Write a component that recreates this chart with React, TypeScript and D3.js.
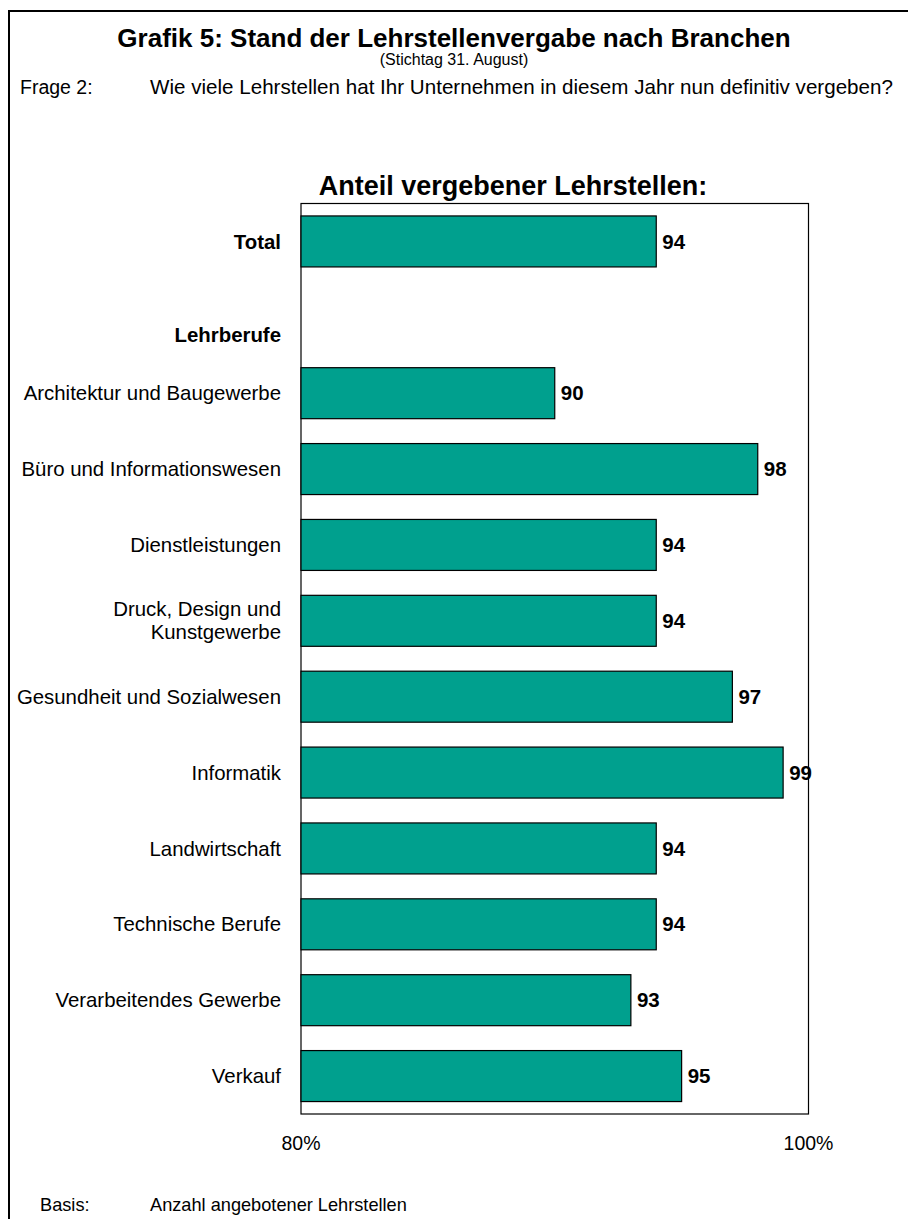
import React from "react";
import * as d3 from "d3";

const categories: string[] = [
  "Total",
  "Lehrberufe",
  "Architektur und Baugewerbe",
  "Büro und Informationswesen",
  "Dienstleistungen",
  "Druck, Design und|Kunstgewerbe",
  "Gesundheit und Sozialwesen",
  "Informatik",
  "Landwirtschaft",
  "Technische Berufe",
  "Verarbeitendes Gewerbe",
  "Verkauf",
];
const values: (number | null)[] = [94, null, 90, 98, 94, 94, 97, 99, 94, 94, 93, 95];
const boldCategories: string[] = ["Total", "Lehrberufe"];
const xTicks: number[] = [80, 100];
const xTickLabels: string[] = ["80%", "100%"];

const W = 908;
const H = 1219;
const FONT = "'Liberation Sans', Arial, sans-serif";

export default function App() {
  const left = 301;
  const right = 808.5;
  const top = 203.5;
  const bottom = 1114;

  const x = d3.scaleLinear().domain([80, 100]).range([left, right]);
  const y = d3.scaleBand<string>().domain(categories).range([top, bottom]).paddingInner(0.328).paddingOuter(0.164);

  return (
    <svg width={W} height={H} style={{ position: "absolute", left: 0, top: 0 }} fontFamily={FONT}>
      <rect x={0} y={0} width={W} height={H} fill="#fff" />
      <rect x={9} y={11} width={W + 20} height={H + 20} fill="none" stroke="#000" strokeWidth={2} />
      <text x={454} y={47} textAnchor="middle" fontSize={26} fontWeight="bold">
        Grafik 5: Stand der Lehrstellenvergabe nach Branchen
      </text>
      <text x={454} y={65} textAnchor="middle" fontSize={16}>
        (Stichtag 31. August)
      </text>
      <text x={20} y={94} fontSize={19.5}>Frage 2:</text>
      <text x={150} y={94} fontSize={20.6}>
        Wie viele Lehrstellen hat Ihr Unternehmen in diesem Jahr nun definitiv vergeben?
      </text>
      <text x={513} y={195} textAnchor="middle" fontSize={27} fontWeight="bold">
        Anteil vergebener Lehrstellen:
      </text>

      <rect x={left} y={top} width={right - left} height={bottom - top} fill="none" stroke="#000" strokeWidth={1.2} />

      {categories.map((c, i) => {
        const v = values[i];
        const yc = (y(c) as number) + y.bandwidth() / 2;
        const lines = c.split("|");
        const isBold = boldCategories.includes(c);
        const offset = c === "Lehrberufe" ? 18 : 0;
        return (
          <g key={c}>
            {lines.map((ln, k) => (
              <text
                key={k}
                x={281}
                y={yc + offset + (k - (lines.length - 1) / 2) * 23}
                dy="0.35em"
                textAnchor="end"
                fontSize={20.4}
                fontWeight={isBold ? "bold" : "normal"}
              >
                {ln}
              </text>
            ))}
            {v !== null && (
              <>
                <rect
                  x={x(80)}
                  y={y(c) as number}
                  width={x(v) - x(80)}
                  height={y.bandwidth()}
                  fill="#00A08E"
                  stroke="#000"
                  strokeWidth={1.2}
                />
                <text x={x(v) + 6} y={yc} dy="0.35em" fontSize={20.5} fontWeight="bold">
                  {v}
                </text>
              </>
            )}
          </g>
        );
      })}

      {xTicks.map((t, i) => (
        <text key={t} x={x(t)} y={1150} textAnchor="middle" fontSize={19.5}>
          {xTickLabels[i]}
        </text>
      ))}

      <text x={40} y={1211} fontSize={18.2}>Basis:</text>
      <text x={150} y={1211} fontSize={18.2}>Anzahl angebotener Lehrstellen</text>
    </svg>
  );
}
